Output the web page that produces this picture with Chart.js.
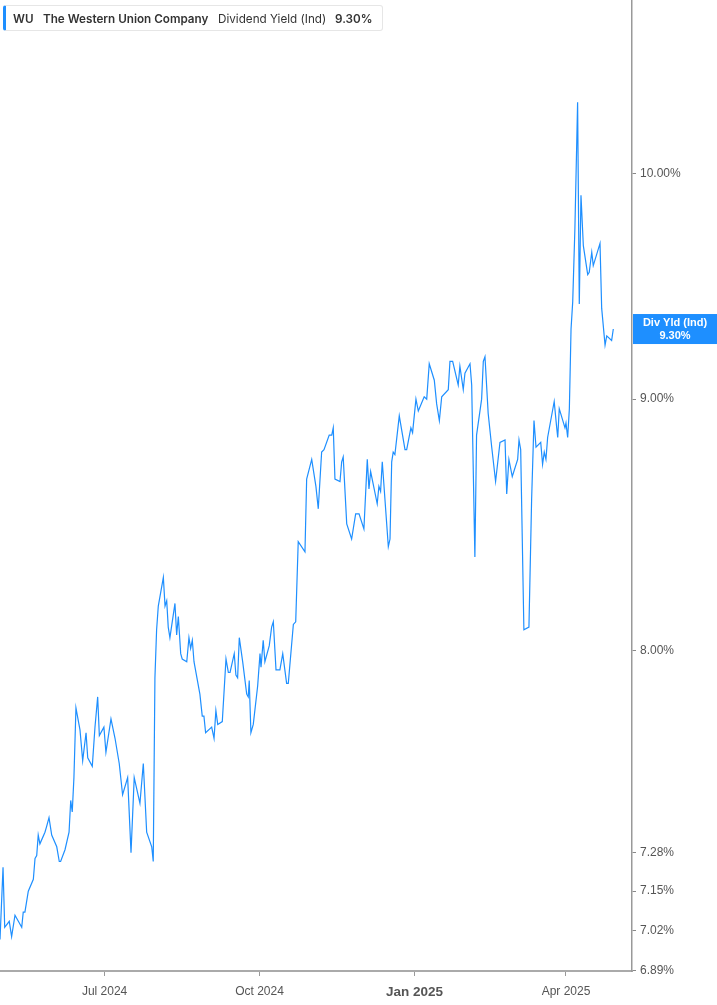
<!DOCTYPE html>
<html>
<head>
<meta charset="utf-8">
<script src="https://cdn.jsdelivr.net/npm/chart.js@4.4.1/dist/chart.umd.min.js"></script>
<style>
  html, body { margin: 0; padding: 0; background: #fff; }
  #wrap { position: relative; width: 717px; height: 1005px; }
  #legend {
    position: absolute; left: 3px; top: 5px; height: 26px; width: 380px;
    border: 1px solid #e6e6e6; border-left: 3px solid #1e8fff; border-radius: 3px;
    background: #fff; font-family: Inter, "Liberation Sans", sans-serif; font-size: 11.7px;
    color: #333; line-height: 26px; box-sizing: border-box; white-space: nowrap;
  }
  #legend span { position: absolute; top: 0; }
  .b { font-weight: 600; }
</style>
</head>
<body>
<div id="wrap">
  <canvas id="chart" width="717" height="1005"></canvas>
  <div id="legend">
    <span class="b" style="left:7px">WU</span>
    <span class="b" style="left:37px">The Western Union Company</span>
    <span style="left:212px">Dividend Yield (Ind)</span>
    <span class="b" style="left:329px">9.30%</span>
  </div>
</div>
<script>
// days since 2024-07-01
const days = [-62.1, -60.3, -59.3, -56.6, -55.2, -53.2, -51.2, -49.2, -48.3, -47.3,
  -45.3, -42.3, -41.3, -40.3, -39.4, -38.4, -35.4, -34.4, -33.0, -31.4,
  -28.4, -26.9, -26.1, -23.5, -21.1, -20.1, -19.2, -18.2, -17.0, -14.6,
  -13.0, -11.0, -10.0, -7.3, -5.7, -4.1, -3.1, -0.4, 0.8, 3.8,
  6.2, 8.7, 10.7, 13.7, 15.7, 17.6, 21.0, 23.0, 25.0, 28.0,
  28.9, 29.9, 30.9, 31.9, 34.9, 35.9, 36.9, 37.8, 38.8, 41.8,
  42.8, 43.8, 45.2, 46.1, 48.8, 50.1, 51.1, 52.1, 53.1, 56.6,
  58.0, 59.0, 60.0, 63.6, 65.0, 66.1, 67.2, 69.9, 72.1, 73.5,
  74.5, 77.0, 78.0, 79.0, 80.0, 82.0, 84.4, 85.3, 85.9, 86.9,
  88.3, 90.9, 92.3, 92.9, 94.2, 95.2, 97.8, 99.2, 100.2, 101.8,
  104.1, 105.8, 108.1, 109.1, 112.1, 113.5, 115.0, 119.0, 120.0, 123.0,
  125.5, 126.9, 128.9, 130.3, 133.4, 134.9, 135.8, 136.8, 139.8, 140.8,
  141.7, 143.8, 146.7, 149.1, 151.1, 154.0, 156.0, 157.0, 158.0, 161.9,
  162.9, 163.9, 164.9, 168.5, 169.5, 170.5, 171.4, 172.4, 175.0, 178.4,
  179.4, 181.9, 182.9, 184.9, 186.3, 189.8, 191.3, 192.8, 195.8, 197.2,
  198.8, 200.2, 204.1, 205.1, 206.7, 210.0, 211.0, 213.0, 214.0, 217.0,
  218.0, 219.9, 220.9, 223.9, 224.9, 225.9, 227.8, 229.9, 232.2, 234.8,
  237.8, 238.8, 240.1, 242.1, 245.3, 246.1, 247.1, 249.0, 252.0, 253.6,
  255.0, 256.2, 259.0, 260.1, 261.1, 262.1, 263.1, 267.0, 268.5, 269.1,
  270.0, 273.4, 274.0, 275.0, 276.0, 277.0, 278.0, 279.3, 280.9, 281.9,
  282.9, 284.3, 286.9, 287.8, 289.3, 290.2, 294.2, 295.2, 297.2, 298.2,
  301.1, 302.1];

const yields = [6.99, 7.23, 7.03, 7.05, 7.00, 7.07, 7.05, 7.03, 7.08, 7.08,
  7.15, 7.19, 7.26, 7.27, 7.34, 7.31, 7.35, 7.37, 7.40, 7.34,
  7.30, 7.25, 7.25, 7.29, 7.35, 7.46, 7.42, 7.54, 7.79, 7.71,
  7.60, 7.70, 7.61, 7.58, 7.72, 7.83, 7.69, 7.72, 7.63, 7.75,
  7.68, 7.59, 7.48, 7.54, 7.28, 7.54, 7.45, 7.59, 7.35, 7.30,
  7.25, 7.90, 8.08, 8.17, 8.28, 8.17, 8.19, 8.09, 8.05, 8.18,
  8.06, 8.13, 7.99, 7.97, 7.96, 8.05, 8.01, 8.04, 7.96, 7.84,
  7.76, 7.76, 7.70, 7.72, 7.68, 7.78, 7.73, 7.74, 7.97, 7.92,
  7.92, 7.99, 7.91, 7.90, 8.05, 7.96, 7.84, 7.83, 7.89, 7.70,
  7.73, 7.87, 7.99, 7.94, 8.04, 7.96, 8.02, 8.09, 8.11, 7.93,
  7.93, 7.99, 7.88, 7.88, 8.10, 8.11, 8.42, 8.38, 8.67, 8.75,
  8.64, 8.55, 8.78, 8.79, 8.85, 8.85, 8.88, 8.67, 8.66, 8.74,
  8.76, 8.49, 8.43, 8.53, 8.53, 8.47, 8.75, 8.63, 8.70, 8.57,
  8.64, 8.62, 8.74, 8.40, 8.43, 8.74, 8.78, 8.77, 8.93, 8.79,
  8.79, 8.88, 8.86, 9.00, 8.95, 9.01, 9.00, 9.15, 9.08, 8.98,
  8.91, 9.01, 9.04, 9.16, 9.16, 9.06, 9.14, 9.04, 9.11, 9.15,
  9.06, 8.36, 8.85, 9.00, 9.16, 9.18, 8.94, 8.80, 8.66, 8.82,
  8.83, 8.61, 8.75, 8.68, 8.75, 8.83, 8.79, 8.08, 8.09, 8.59,
  8.91, 8.80, 8.82, 8.73, 8.78, 8.75, 8.84, 8.99, 8.88, 8.84,
  8.96, 8.88, 8.90, 8.84, 8.96, 9.30, 9.42, 9.75, 10.34, 9.41,
  9.90, 9.67, 9.54, 9.55, 9.64, 9.58, 9.68, 9.39, 9.23, 9.27,
  9.25, 9.30];

const yTicks = [6.89, 7.02, 7.15, 7.28, 8.00, 9.00, 10.00];
const xTickDays = [0, 92, 184, 274];
const xTickLabels = ["Jul 2024", "Oct 2024", "Jan 2025", "Apr 2025"];
const lastLabel = ["Div Yld (Ind)", "9.30%"];
const lastValue = 9.30;

const blue = "#1e8fff";

const lastBox = {
  id: "lastBox",
  afterDraw(chart) {
    const c = chart.ctx;
    const y = chart.scales.y.getPixelForValue(lastValue);
    const x0 = chart.chartArea.right + 1;
    c.save();
    c.fillStyle = blue;
    c.fillRect(x0, y - 15, chart.width - x0, 30);
    c.fillStyle = "#fff";
    c.font = "bold 11px 'Liberation Sans', Arial, sans-serif";
    c.textAlign = "center";
    c.textBaseline = "middle";
    const cx = x0 + (chart.width - x0) / 2;
    c.fillText(lastLabel[0], cx, y - 6);
    c.fillText(lastLabel[1], cx, y + 7);
    c.restore();
  }
};

new Chart(document.getElementById("chart"), {
  type: "line",
  data: {
    datasets: [{
      data: days.map((d, i) => ({ x: d, y: yields[i] })),
      borderColor: blue,
      borderWidth: 1.2,
      pointRadius: 0,
      tension: 0,
      fill: false
    }]
  },
  options: {
    responsive: false,
    animation: false,
    layout: { padding: 0 },
    plugins: { legend: { display: false }, tooltip: { enabled: false } },
    scales: {
      x: {
        type: "linear",
        min: -62.1,
        max: 313.2,
        afterBuildTicks: (s) => { s.ticks = xTickDays.map(v => ({ value: v })); },
        afterFit: (s) => { s.height = 34; s.paddingLeft = 0; s.paddingRight = 0; },
        ticks: {
          autoSkip: false,
          maxRotation: 0,
          padding: 8,
          color: "#555",
          font: (ctx) => (ctx.tick && ctx.tick.value === 184)
            ? { family: "'Liberation Sans', Arial", size: 13.5, weight: "bold" }
            : { family: "'Liberation Sans', Arial", size: 12 },
          callback: (v) => xTickLabels[xTickDays.indexOf(v)]
        },
        grid: { drawOnChartArea: false, drawTicks: true, tickLength: 5, color: "#999" },
        border: { display: true, color: "#aaa", width: 2 }
      },
      y: {
        type: "logarithmic",
        position: "right",
        min: 6.888,
        max: 10.847,
        afterBuildTicks: (s) => { s.ticks = yTicks.map(v => ({ value: v })); },
        afterFit: (s) => { s.width = 85; s.paddingTop = 0; s.paddingBottom = 0; },
        ticks: {
          autoSkip: false,
          padding: 4,
          color: "#555",
          font: { family: "'Liberation Sans', Arial", size: 12 },
          callback: (v) => Number(v).toFixed(2) + "%"
        },
        grid: { drawOnChartArea: false, drawTicks: true, tickLength: 4, color: "#888" },
        border: { display: true, color: "#999", width: 1.5 }
      }
    }
  },
  plugins: [lastBox]
});
</script>
</body>
</html>
